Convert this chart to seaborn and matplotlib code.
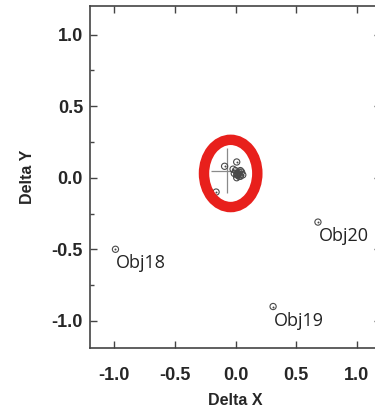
import matplotlib
matplotlib.use("Agg")
import matplotlib.pyplot as plt
from matplotlib.patches import Ellipse
from matplotlib.ticker import MultipleLocator, FormatStrFormatter
import pandas as pd
import seaborn as sns

# Offsets of each object from the reference position
obj_names = ["c1", "c2", "c3", "c4", "c5", "c6", "c7", "c8", "c9", "c10",
             "c11", "c12", "c13", "c14", "c15", "c16",
             "Obj18", "Obj19", "Obj20"]
delta_x = [0.02, 0.03, 0.01, -0.09, 0.05, 0.01, 0.04, 0.02, -0.01, 0.06,
           -0.16, 0.00, 0.03, 0.04, 0.01, -0.02,
           -0.99, 0.31, 0.68]
delta_y = [0.03, 0.01, 0.11, 0.08, 0.04, 0.00, 0.05, 0.02, 0.03, 0.02,
           -0.10, 0.05, 0.04, 0.01, 0.02, 0.06,
           -0.50, -0.90, -0.31]
labelled = ["Obj18", "Obj19", "Obj20"]

# Mean offset with its spread
mean_x, mean_y = -0.07, 0.05
err_x, err_y = 0.13, 0.16

df = pd.DataFrame({"name": obj_names, "dx": delta_x, "dy": delta_y})

sns.set_style("ticks")
plt.rcParams["font.family"] = ["Liberation Sans", "DejaVu Sans"]

fig = plt.figure(figsize=(3.75, 4.15), dpi=100)
ax = fig.add_axes([0.24, 0.1614, 0.776, 0.8241])

grey = "#4a4a4a"
ax.errorbar(mean_x, mean_y, xerr=err_x, yerr=err_y, fmt="none",
            ecolor="#8a8a8a", elinewidth=0.9, capsize=0, zorder=2)
sns.scatterplot(data=df, x="dx", y="dy", ax=ax, marker="o", s=20,
                facecolor="none", edgecolor=grey, linewidth=0.8, zorder=3)
sns.scatterplot(data=df, x="dx", y="dy", ax=ax, marker="o", s=2,
                color=grey, linewidth=0, zorder=4)

for _, r in df[df["name"].isin(labelled)].iterrows():
    ax.text(r["dx"] + 0.005, r["dy"] - 0.035, r["name"], ha="left", va="top",
            fontsize=13, family=["Open Sans", "DejaVu Sans"], color="#222222")

# Red highlight around the central cluster
ax.add_patch(Ellipse((-0.04, 0.03), 0.44, 0.47, fill=False,
                     edgecolor="#e8201c", linewidth=7.5, zorder=5))

ax.set_xlim(-1.2, 1.2)
ax.set_ylim(-1.19, 1.2)
ax.xaxis.set_major_locator(MultipleLocator(0.5))
ax.yaxis.set_major_locator(MultipleLocator(0.5))
ax.yaxis.set_minor_locator(MultipleLocator(0.25))
ax.xaxis.set_major_formatter(FormatStrFormatter("%.1f"))
ax.yaxis.set_major_formatter(FormatStrFormatter("%.1f"))
ax.tick_params(which="both", direction="in", top=True, right=True,
               color="#444444", width=1.0)
ax.tick_params(which="major", length=5, labelsize=13)
ax.tick_params(axis="y", which="major", pad=5)
ax.tick_params(axis="x", which="major", pad=14)
ax.tick_params(which="minor", length=3)
for lbl in ax.get_xticklabels() + ax.get_yticklabels():
    lbl.set_fontweight("bold")
for s in ax.spines.values():
    s.set_color("#444444")
    s.set_linewidth(1.2)

ax.set_xlabel("Delta X", fontsize=11.5, fontweight="bold", labelpad=6)
ax.set_ylabel("Delta Y", fontsize=11.5, fontweight="bold", labelpad=12)

fig.savefig("out.png", dpi=100)
